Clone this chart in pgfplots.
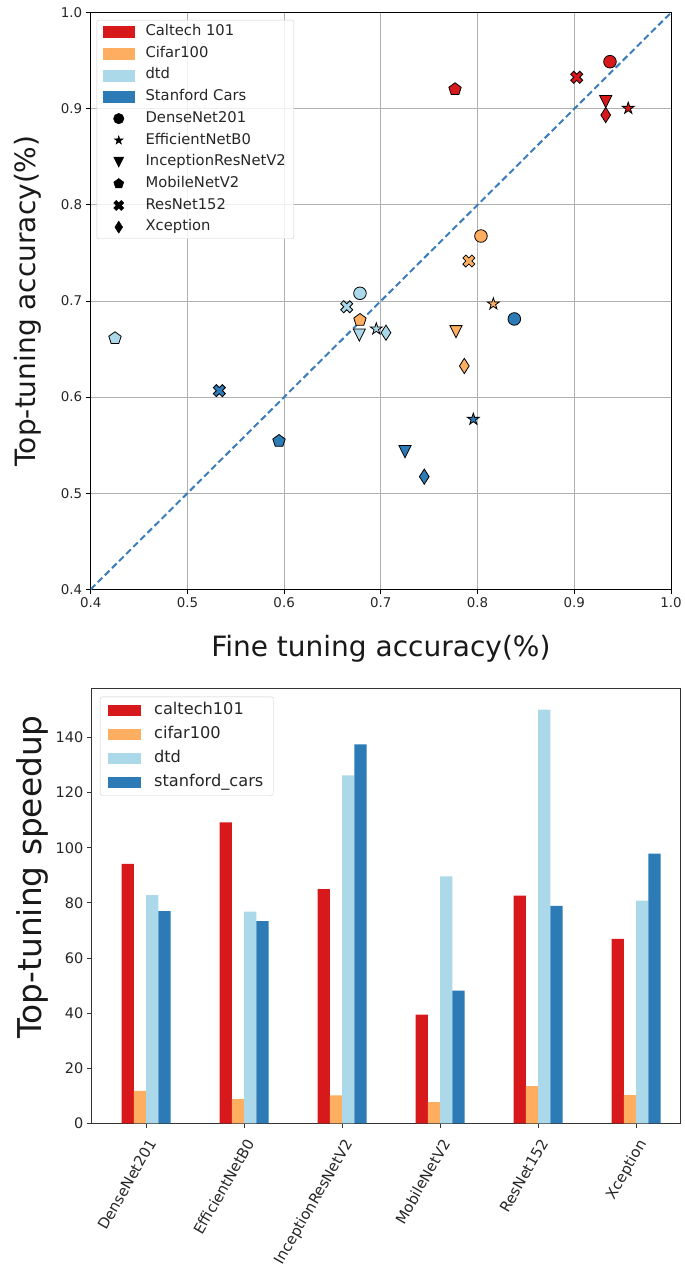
\documentclass[border=0pt]{standalone}
\usepackage{fontspec}
\setmainfont{DejaVu Sans}
\usepackage{pgfplots}
\pgfplotsset{compat=1.18}

\definecolor{cCal}{HTML}{D7191C}
\definecolor{cCif}{HTML}{FDAE61}
\definecolor{cDtd}{HTML}{ABD9E9}
\definecolor{cSta}{HTML}{2C7BB6}
\definecolor{gridc}{HTML}{B0B0B0}
\definecolor{diag}{HTML}{3A7DBA}

\newcommand{\fs}[1]{\fontsize{#1}{#1}\selectfont}

\pgfdeclareplotmark{fstar}{%
  \pgfpathmoveto{\pgfpointpolar{90}{\pgfplotmarksize}}%
  \pgfpathlineto{\pgfpointpolar{126}{0.382\pgfplotmarksize}}%
  \pgfpathlineto{\pgfpointpolar{162}{\pgfplotmarksize}}%
  \pgfpathlineto{\pgfpointpolar{198}{0.382\pgfplotmarksize}}%
  \pgfpathlineto{\pgfpointpolar{234}{\pgfplotmarksize}}%
  \pgfpathlineto{\pgfpointpolar{270}{0.382\pgfplotmarksize}}%
  \pgfpathlineto{\pgfpointpolar{306}{\pgfplotmarksize}}%
  \pgfpathlineto{\pgfpointpolar{342}{0.382\pgfplotmarksize}}%
  \pgfpathlineto{\pgfpointpolar{18}{\pgfplotmarksize}}%
  \pgfpathlineto{\pgfpointpolar{54}{0.382\pgfplotmarksize}}%
  \pgfpathclose\pgfusepathqfillstroke}
\pgfdeclareplotmark{fpent}{%
  \pgfpathmoveto{\pgfpointpolar{90}{\pgfplotmarksize}}%
  \pgfpathlineto{\pgfpointpolar{162}{\pgfplotmarksize}}%
  \pgfpathlineto{\pgfpointpolar{234}{\pgfplotmarksize}}%
  \pgfpathlineto{\pgfpointpolar{306}{\pgfplotmarksize}}%
  \pgfpathlineto{\pgfpointpolar{18}{\pgfplotmarksize}}%
  \pgfpathclose\pgfusepathqfillstroke}
\pgfdeclareplotmark{ftri}{%
  \pgfpathmoveto{\pgfpoint{0pt}{-\pgfplotmarksize}}%
  \pgfpathlineto{\pgfpoint{-\pgfplotmarksize}{\pgfplotmarksize}}%
  \pgfpathlineto{\pgfpoint{\pgfplotmarksize}{\pgfplotmarksize}}%
  \pgfpathclose\pgfusepathqfillstroke}
\pgfdeclareplotmark{fdia}{%
  \pgfpathmoveto{\pgfpoint{0pt}{\pgfplotmarksize}}%
  \pgfpathlineto{\pgfpoint{0.64\pgfplotmarksize}{0pt}}%
  \pgfpathlineto{\pgfpoint{0pt}{-\pgfplotmarksize}}%
  \pgfpathlineto{\pgfpoint{-0.64\pgfplotmarksize}{0pt}}%
  \pgfpathclose\pgfusepathqfillstroke}
\pgfdeclareplotmark{fx}{%
  \pgfpathmoveto{\pgfpoint{0.4714\pgfplotmarksize}{-0.9428\pgfplotmarksize}}%
  \pgfpathlineto{\pgfpoint{0pt}{-0.4714\pgfplotmarksize}}%
  \pgfpathlineto{\pgfpoint{-0.4714\pgfplotmarksize}{-0.9428\pgfplotmarksize}}%
  \pgfpathlineto{\pgfpoint{-0.9428\pgfplotmarksize}{-0.4714\pgfplotmarksize}}%
  \pgfpathlineto{\pgfpoint{-0.4714\pgfplotmarksize}{0pt}}%
  \pgfpathlineto{\pgfpoint{-0.9428\pgfplotmarksize}{0.4714\pgfplotmarksize}}%
  \pgfpathlineto{\pgfpoint{-0.4714\pgfplotmarksize}{0.9428\pgfplotmarksize}}%
  \pgfpathlineto{\pgfpoint{0pt}{0.4714\pgfplotmarksize}}%
  \pgfpathlineto{\pgfpoint{0.4714\pgfplotmarksize}{0.9428\pgfplotmarksize}}%
  \pgfpathlineto{\pgfpoint{0.9428\pgfplotmarksize}{0.4714\pgfplotmarksize}}%
  \pgfpathlineto{\pgfpoint{0.4714\pgfplotmarksize}{0pt}}%
  \pgfpathlineto{\pgfpoint{0.9428\pgfplotmarksize}{-0.4714\pgfplotmarksize}}%
  \pgfpathclose\pgfusepathqfillstroke}

\pgfplotsset{
  mcirc/.style={mark=*, mark size=6.3pt},
  mstar/.style={mark=fstar, mark size=6.2pt},
  mtri/.style={mark=ftri, mark size=6.1pt},
  mpent/.style={mark=fpent, mark size=6.5pt},
  mx/.style={mark=fx, mark size=6.4pt},
  mdia/.style={mark=fdia, mark size=7.6pt},
  sc/.style={only marks, forget plot, mark options={fill=#1, draw=black, line width=0.8pt}},
  patchleg/.style={legend image code/.code={\fill[#1, fill opacity=1, sharp corners] (0pt,-5.5pt) rectangle (31.3pt,5.5pt); \path (0pt,0pt) (40.3pt,0pt);}},
  markleg/.style 2 args={legend image code/.code={\draw[black, sharp corners, only marks, mark=#1, mark size=#2, mark options={fill=black, draw=black, fill opacity=1, line width=0.5pt, sharp corners}] plot coordinates {(15.65pt,0pt)}; \path (0pt,0pt) (40.3pt,0pt);}},
  barleg/.style={legend image code/.code={\fill[#1, fill opacity=1, sharp corners] (0pt,-5pt) rectangle (31.7pt,5pt); \path (0pt,0pt) (43.6pt,0pt);}},
}

\begin{document}
\begin{tikzpicture}[x=1pt,y=1pt]
\useasboundingbox (0,0) rectangle (685,1280);

% ---------------- scatter -----------------
\begin{axis}[
  at={(90.7pt,690.7pt)}, anchor=south west, scale only axis,
  width=580.3pt, height=576.6pt,
  xmin=0.4, xmax=1.0, ymin=0.4, ymax=1.0,
  xtick={0.4,0.5,0.6,0.7,0.8,0.9,1.0},
  xticklabels={0.4,0.5,0.6,0.7,0.8,0.9,1.0},
  ytick={0.4,0.5,0.6,0.7,0.8,0.9,1.0},
  yticklabels={0.4,0.5,0.6,0.7,0.8,0.9,1.0},
  grid=major, major grid style={gridc, line width=0.8pt},
  axis line style={black, line width=1pt},
  tick align=outside, major tick length=4.9pt,
  tick style={black, line width=0.9pt},
  xtick pos=left, ytick pos=left,
  tick label style={font=\fs{13.4}, text=black!85},
  xlabel={Fine tuning accuracy(\%)},
  ylabel={Top-tuning accuracy(\%)},
  label style={font=\fs{28}, text=black!90},
  xlabel style={at={(axis description cs:0.5,-0.1169)}, anchor=base},
  ylabel style={at={(axis description cs:-0.0943,0.5)}, anchor=base},
  legend cell align=left,
  legend style={at={(0,1)}, anchor=north west, xshift=6pt, yshift=-7.3pt,
    draw=black!20, fill=white, fill opacity=0.8, text opacity=1,
    rounded corners=2pt, font=\fs{14.75}, text=black!85,
    inner xsep=6pt, inner ysep=2.9pt, row sep=4.2pt,
    nodes={inner xsep=2pt, inner ysep=1.5pt, text height=11pt, text depth=3.5pt}},
]
\addlegendimage{patchleg=cCal}\addlegendentry{Caltech 101}
\addlegendimage{patchleg=cCif}\addlegendentry{Cifar100}
\addlegendimage{patchleg=cDtd}\addlegendentry{dtd}
\addlegendimage{patchleg=cSta}\addlegendentry{Stanford Cars}
\addlegendimage{markleg={*}{5.2pt}}\addlegendentry{DenseNet201}
\addlegendimage{markleg={fstar}{4.5pt}}\addlegendentry{EfficientNetB0}
\addlegendimage{markleg={ftri}{5pt}}\addlegendentry{InceptionResNetV2}
\addlegendimage{markleg={fpent}{5.2pt}}\addlegendentry{MobileNetV2}
\addlegendimage{markleg={fx}{5.3pt}}\addlegendentry{ResNet152}
\addlegendimage{markleg={fdia}{6pt}}\addlegendentry{Xception}

% DenseNet201
\addplot[sc=cCal, mcirc] coordinates {(0.9369,0.9490)};
\addplot[sc=cCif, mcirc] coordinates {(0.8035,0.7676)};
\addplot[sc=cDtd, mcirc] coordinates {(0.6784,0.7080)};
\addplot[sc=cSta, mcirc] coordinates {(0.8380,0.6813)};
% EfficientNetB0
\addplot[sc=cCal, mstar] coordinates {(0.9558,0.9005)};
\addplot[sc=cCif, mstar] coordinates {(0.8163,0.6969)};
\addplot[sc=cDtd, mstar] coordinates {(0.6953,0.6709)};
\addplot[sc=cSta, mstar] coordinates {(0.7956,0.5769)};
% InceptionResNetV2
\addplot[sc=cCal, mtri] coordinates {(0.9325,0.9074)};
\addplot[sc=cCif, mtri] coordinates {(0.7777,0.6680)};
\addplot[sc=cDtd, mtri] coordinates {(0.6777,0.6646)};
\addplot[sc=cSta, mtri] coordinates {(0.7250,0.5432)};
% MobileNetV2
\addplot[sc=cCal, mpent] coordinates {(0.7767,0.9203)};
\addplot[sc=cCif, mpent] coordinates {(0.6784,0.6802)};
\addplot[sc=cDtd, mpent] coordinates {(0.4251,0.6612)};
\addplot[sc=cSta, mpent] coordinates {(0.5947,0.5543)};
% ResNet152
\addplot[sc=cCal, mx] coordinates {(0.9025,0.9328)};
\addplot[sc=cCif, mx] coordinates {(0.7910,0.7416)};
\addplot[sc=cDtd, mx] coordinates {(0.6647,0.6940)};
\addplot[sc=cSta, mx] coordinates {(0.5330,0.6067)};
% Xception
\addplot[sc=cCal, mdia] coordinates {(0.9325,0.8935)};
\addplot[sc=cCif, mdia] coordinates {(0.7863,0.6324)};
\addplot[sc=cDtd, mdia] coordinates {(0.7053,0.6670)};
\addplot[sc=cSta, mdia] coordinates {(0.7449,0.5172)};

\addplot[diag, line width=2pt, dash pattern=on 6.5pt off 3.5pt, forget plot] coordinates {(0.4,0.4) (1.0,1.0)};
\end{axis}

% ---------------- bars -----------------
\begin{axis}[
  at={(91.7pt,156.7pt)}, anchor=south west, scale only axis,
  width=589pt, height=434.3pt,
  xmin=-0.555, xmax=5.455, ymin=0, ymax=157.6,
  xtick={0,1,2,3,4,5},
  xticklabels={DenseNet201,EfficientNetB0,InceptionResNetV2,MobileNetV2,ResNet152,Xception},
  ytick={0,20,40,60,80,100,120,140},
  yticklabels={0,20,40,60,80,100,120,140},
  axis line style={black!80, line width=1pt},
  tick align=outside, major tick length=4.9pt,
  tick style={black!80, line width=0.9pt},
  xtick pos=left, ytick pos=left,
  tick label style={font=\fs{14.5}, text=black!85},
  xticklabel style={font=\fs{14.8}, rotate=60, anchor=north east},
  xticklabel shift=5pt,
  ylabel={Top-tuning speedup},
  ylabel style={font=\fs{32.8}, text=black!90, at={(axis description cs:-0.0849,0.567)}, anchor=base},
  legend cell align=left,
  legend style={at={(0,1)}, anchor=north west, xshift=8.3pt, yshift=-7.7pt,
    draw=black!20, fill=white, fill opacity=0.8, text opacity=1,
    rounded corners=2pt, font=\fs{16.2}, text=black!85,
    inner xsep=7.9pt, inner ysep=3.3pt, row sep=4pt,
    nodes={inner xsep=2pt, inner ysep=2pt, text height=12pt, text depth=4pt}},
]
\addlegendimage{barleg=cCal}\addlegendentry{caltech101}
\addlegendimage{barleg=cCif}\addlegendentry{cifar100}
\addlegendimage{barleg=cDtd}\addlegendentry{dtd}
\addlegendimage{barleg=cSta}\addlegendentry{stanford\_cars}

\addplot[ybar, bar width=0.125, bar shift=-0.1875, fill=cCal, draw=none, forget plot]
  coordinates {(0,94.1) (1,109.2) (2,85.0) (3,39.4) (4,82.6) (5,66.9)};
\addplot[ybar, bar width=0.125, bar shift=-0.0625, fill=cCif, draw=none, forget plot]
  coordinates {(0,11.8) (1,8.8) (2,10.1) (3,7.7) (4,13.5) (5,10.2)};
\addplot[ybar, bar width=0.125, bar shift=0.0625, fill=cDtd, draw=none, forget plot]
  coordinates {(0,82.8) (1,76.8) (2,126.3) (3,89.6) (4,150.1) (5,80.8)};
\addplot[ybar, bar width=0.125, bar shift=0.1875, fill=cSta, draw=none, forget plot]
  coordinates {(0,77.0) (1,73.4) (2,137.5) (3,48.1) (4,78.9) (5,97.9)};
\end{axis}
\end{tikzpicture}
\end{document}
